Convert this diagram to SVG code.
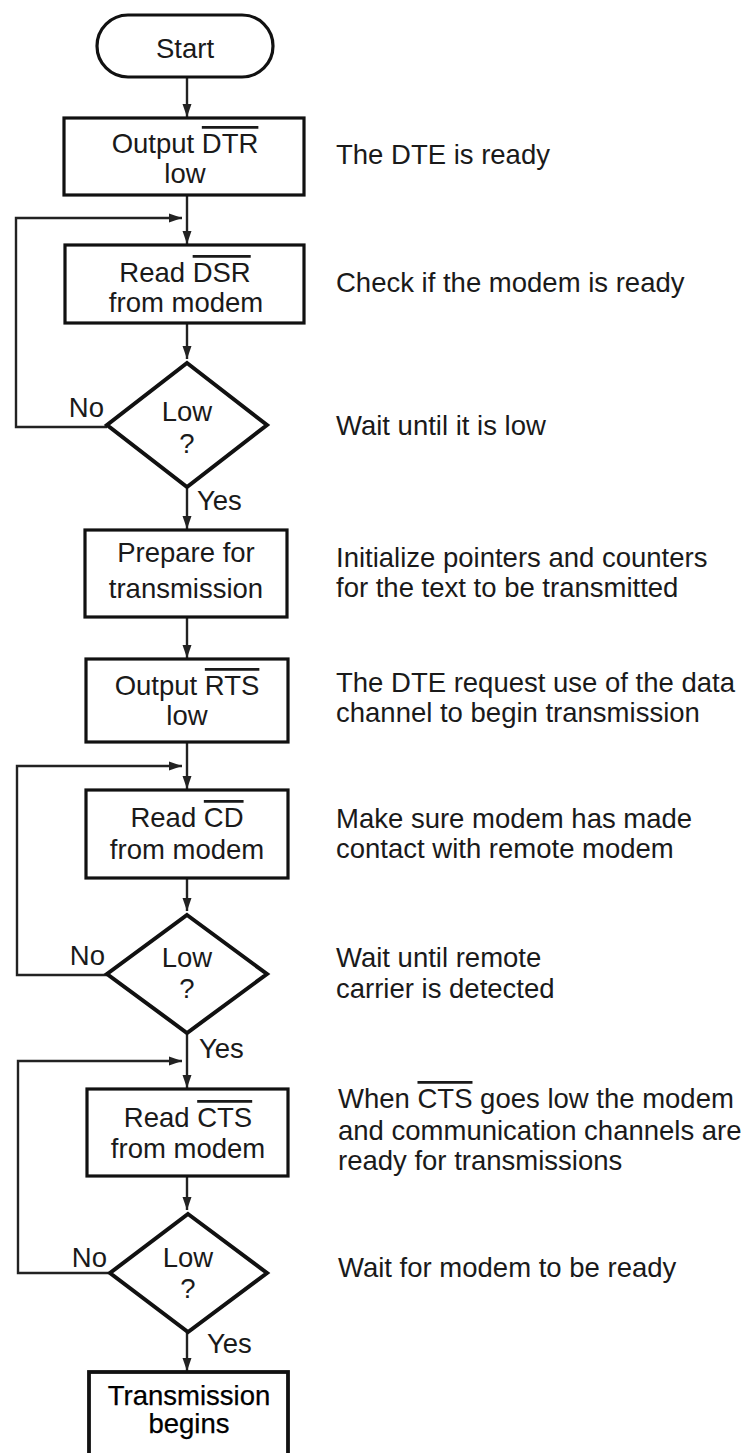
<svg xmlns="http://www.w3.org/2000/svg" width="750" height="1453" viewBox="0 0 750 1453">
<style>
text{font-family:"Liberation Sans",Arial,Helvetica,sans-serif;font-size:27.5px;fill:#1a1a1a}
.c{text-anchor:middle}
.e{text-anchor:end}
.box{fill:#fff;stroke:#111;stroke-width:3.2}
.dia{fill:#fff;stroke:#111;stroke-width:4}
.con{fill:none;stroke:#222;stroke-width:2.4}
.ov{text-decoration:overline}
.bold{fill:#000;stroke:#000;stroke-width:0.25}
</style>
<defs>
<marker id="ah" markerUnits="userSpaceOnUse" markerWidth="14" markerHeight="10" viewBox="0 0 14 10" refX="13" refY="5" orient="auto">
<path d="M0,0.5 L13,5 L0,9.5 Z" fill="#222"/>
</marker>
</defs>
<rect width="750" height="1453" fill="#fff"/>

<g id="connectors">
<path class="con" d="M187,77 V117" marker-end="url(#ah)"/>
<path class="con" d="M187,195 V244" marker-end="url(#ah)"/>
<path class="con" d="M187,323 V359" marker-end="url(#ah)"/>
<path class="con" d="M187,487 V529" marker-end="url(#ah)"/>
<path class="con" d="M187,617 V658" marker-end="url(#ah)"/>
<path class="con" d="M187,742 V789" marker-end="url(#ah)"/>
<path class="con" d="M187,878 V911" marker-end="url(#ah)"/>
<path class="con" d="M187,1033 V1088" marker-end="url(#ah)"/>
<path class="con" d="M187,1176 V1210" marker-end="url(#ah)"/>
<path class="con" d="M187,1332 V1371" marker-end="url(#ah)"/>
<path class="con" d="M107,427 H16 V218 H182" marker-end="url(#ah)"/>
<path class="con" d="M107,975 H17 V766 H182" marker-end="url(#ah)"/>
<path class="con" d="M110,1273 H18 V1061 H182" marker-end="url(#ah)"/>
</g>

<g id="start">
<rect class="box" x="97" y="15" width="176" height="62" rx="31" ry="31"/>
<text class="c" x="185" y="58">Start</text>
</g>

<g id="output-dtr">
<rect class="box" x="64" y="118" width="240" height="77"/>
<text class="c" x="185" y="153">Output <tspan class="ov">DTR</tspan></text>
<text class="c" x="185" y="183">low</text>
</g>

<g id="read-dsr">
<rect class="box" x="65" y="245" width="239" height="78"/>
<text class="c" x="185" y="282">Read <tspan class="ov">DSR</tspan></text>
<text class="c" x="186" y="312">from modem</text>
</g>

<g id="low1">
<polygon class="dia" points="187,363 267,425 187,487 107,425"/>
<text class="c" x="187" y="421">Low</text>
<text class="c" x="187" y="453">?</text>
<text class="e" x="104" y="417">No</text>
<text x="197" y="510">Yes</text>
</g>

<g id="prepare">
<rect class="box" x="85" y="530" width="202" height="87"/>
<text class="c" x="186" y="562">Prepare for</text>
<text class="c" x="186" y="598">transmission</text>
</g>

<g id="output-rts">
<rect class="box" x="86" y="659" width="202" height="83"/>
<text class="c" x="187" y="695">Output <tspan class="ov">RTS</tspan></text>
<text class="c" x="187" y="725">low</text>
</g>

<g id="read-cd">
<rect class="box" x="86" y="790" width="202" height="88"/>
<text class="c" x="187" y="827">Read <tspan class="ov">CD</tspan></text>
<text class="c" x="187" y="859">from modem</text>
</g>

<g id="low2">
<polygon class="dia" points="187,915 267,974 187,1033 107,974"/>
<text class="c" x="187" y="967">Low</text>
<text class="c" x="187" y="998">?</text>
<text class="e" x="105" y="965">No</text>
<text x="199" y="1058">Yes</text>
</g>

<g id="read-cts">
<rect class="box" x="87" y="1089" width="201" height="87"/>
<text class="c" x="188" y="1127">Read <tspan class="ov">CTS</tspan></text>
<text class="c" x="188" y="1158">from modem</text>
</g>

<g id="low3">
<polygon class="dia" points="188,1214 267,1273 188,1332 110,1273"/>
<text class="c" x="188" y="1267">Low</text>
<text class="c" x="188" y="1298">?</text>
<text class="e" x="107" y="1267">No</text>
<text x="207" y="1353">Yes</text>
</g>

<g id="transmission-begins">
<rect class="box" x="89" y="1372" width="199" height="95" style="stroke-width:3.8"/>
<text class="c bold" x="189" y="1405">Transmission</text>
<text class="c bold" x="189" y="1433">begins</text>
</g>

<g id="notes">
<text x="336" y="164">The DTE is ready</text>
<text x="336" y="292">Check if the modem is ready</text>
<text x="336" y="435">Wait until it is low</text>
<text x="336" y="567">Initialize pointers and counters</text>
<text x="336" y="597">for the text to be transmitted</text>
<text x="336" y="692">The DTE request use of the data</text>
<text x="336" y="722">channel to begin transmission</text>
<text x="336" y="828">Make sure modem has made</text>
<text x="336" y="858">contact with remote modem</text>
<text x="336" y="967">Wait until remote</text>
<text x="336" y="998">carrier is detected</text>
<text x="338" y="1108">When <tspan class="ov">CTS</tspan> goes low the modem</text>
<text x="338" y="1140">and communication channels are</text>
<text x="338" y="1170">ready for transmissions</text>
<text x="338" y="1277">Wait for modem to be ready</text>
</g>
</svg>
